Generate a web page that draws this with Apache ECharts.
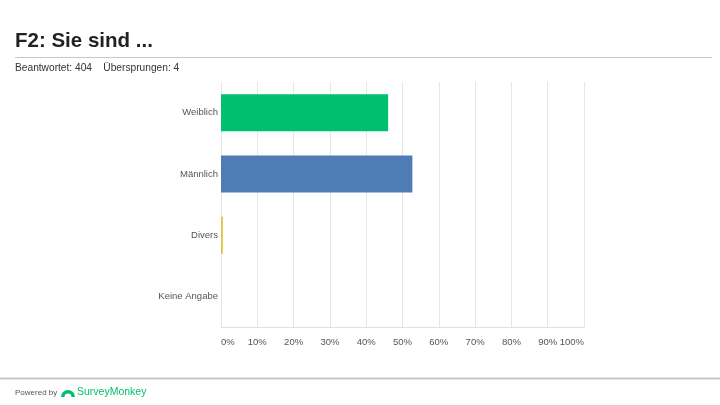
<!DOCTYPE html>
<html><head><meta charset="utf-8">
<script src="https://cdn.jsdelivr.net/npm/echarts@6/dist/echarts.min.js"></script>
<style>html,body{margin:0;padding:0;background:#fff}#c{width:720px;height:405px}</style>
</head><body><div id="c"></div>
<script>
const categories = ['Weiblich', 'Männlich', 'Divers', 'Keine Angabe'];
const values = [46.04, 52.72, 0.5, 0];
const barColors = ['#00BF6F', '#507CB6', '#DCC63A', '#6BC8CD'];
const xTicks = ['0%','10%','20%','30%','40%','50%','60%','70%','80%','90%','100%'];

const chart = echarts.init(document.getElementById('c'), null, {renderer: 'canvas'});
chart.setOption({
  animation: false,
  backgroundColor: '#fff',
  title: [
    {text: 'F2: Sie sind ...', left: 15, top: 31, padding: 0,
     textStyle: {fontFamily: 'Liberation Sans', fontSize: 20.5, fontWeight: 'bold', color: '#222'}},
    {text: 'Beantwortet: 404    Übersprungen: 4', left: 15, top: 63, padding: 0,
     textStyle: {fontFamily: 'Liberation Sans', fontSize: 10.2, fontWeight: 'normal', color: '#333'}}
  ],
  graphic: [
    {type: 'line', shape: {x1: 15, y1: 57.5, x2: 712, y2: 57.5}, style: {stroke: '#c8c8c8', lineWidth: 1}},
    {type: 'line', shape: {x1: 0, y1: 378.5, x2: 720, y2: 378.5}, style: {stroke: '#c8c8c8', lineWidth: 2}},
    {type: 'text', x: 15, y: 389, style: {text: 'Powered by', fontFamily: 'Liberation Sans', fontSize: 8, fill: '#555'}},
    {type: 'sector', shape: {cx: 68, cy: 397, r: 7, r0: 3.5, startAngle: Math.PI, endAngle: 2 * Math.PI},
     style: {fill: '#00BF6F'}},
    {type: 'text', x: 77, y: 387, style: {text: 'SurveyMonkey', fontFamily: 'Liberation Sans', fontSize: 10.5, fill: '#00BF6F'}}
  ],
  grid: {left: 221, right: 136, top: 82, bottom: 78},
  xAxis: {
    type: 'value', min: 0, max: 100, interval: 10,
    axisLine: {show: true, lineStyle: {color: '#e0e0e0'}}, axisTick: {show: false},
    splitLine: {show: true, lineStyle: {color: '#e6e6e6', width: 1}},
    axisLabel: {color: '#555', fontFamily: 'Liberation Sans', fontSize: 9.5, margin: 10,
      alignMinLabel: 'left', alignMaxLabel: 'right',
      formatter: function (v) { return xTicks[Math.round(v / 10)]; }}
  },
  yAxis: {
    type: 'category', data: categories, inverse: true,
    axisLine: {show: false},
    axisTick: {show: false},
    splitLine: {show: false},
    axisLabel: {color: '#555', fontFamily: 'Liberation Sans', fontSize: 9.5, margin: 3}
  },
  series: [{
    type: 'bar',
    data: values.map(function (v, i) { return {value: v, itemStyle: {color: barColors[i]}}; }),
    barWidth: 37
  }]
});
</script></body></html>
